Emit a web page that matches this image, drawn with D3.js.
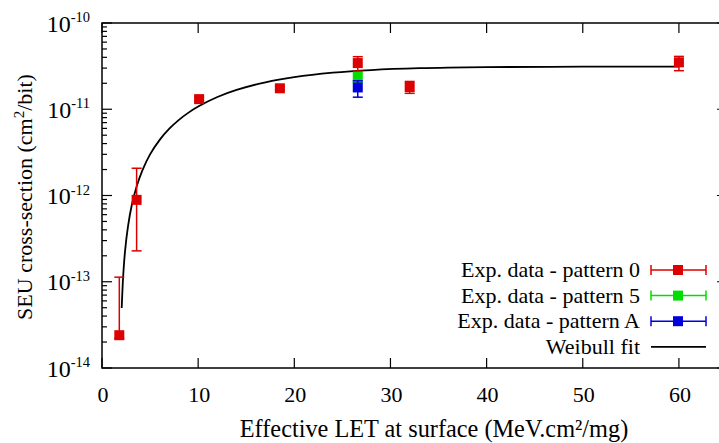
<!DOCTYPE html>
<html><head><meta charset="utf-8">
<script src="https://cdn.jsdelivr.net/npm/d3@7"></script>
</head>
<body style="margin:0">
<script>
// ---- data ----
const xTicks = [0, 10, 20, 30, 40, 50, 60];
const yTickExps = [-14, -13, -12, -11, -10];

const p0LET   = [1.8, 3.6, 10.1, 18.5, 26.6, 32.0, 60.0];
const p0Sigma = [2.4e-14, 8.9e-13, 1.31e-11, 1.75e-11, 3.43e-11, 1.81e-11, 3.5e-11];
const p0Low   = [2.2e-14, 2.28e-13, 1.25e-11, 1.68e-11, 2.77e-11, 1.53e-11, 2.8e-11];
const p0High  = [1.13e-13, 2.07e-12, 1.38e-11, 1.84e-11, 4.07e-11, 2.1e-11, 4.1e-11];

const p5LET   = [26.6];
const p5Sigma = [2.3e-11];
const p5Low   = [2.09e-11];
const p5High  = [2.66e-11];

const pALET   = [26.6];
const pASigma = [1.79e-11];
const pALow   = [1.38e-11];
const pAHigh  = [2.14e-11];

const fitLET   = [2.05, 2.2, 2.4, 2.7, 3.1, 3.6, 4.2, 5, 6, 7, 8, 9, 10, 12, 14, 17, 20, 24, 28, 33, 40, 50, 60];
const fitSigma = [4.97e-14, 1.15e-13, 2.28e-13, 4.36e-13, 7.75e-13, 1.27e-12, 1.96e-12, 3.0e-12, 4.42e-12, 5.95e-12, 7.54e-12, 9.14e-12, 1.075e-11, 1.387e-11, 1.676e-11, 2.054e-11, 2.358e-11, 2.654e-11, 2.849e-11, 2.99e-11, 3.078e-11, 3.113e-11, 3.119e-11];

const seriesNames = ["Exp. data - pattern 0", "Exp. data - pattern 5", "Exp. data - pattern A", "Weibull fit"];
const seriesColors = ["#dd0000", "#00dd00", "#0000dd", "#000000"];

// ---- layout ----
const W = 719, H = 443;
const L = 102, R = 727, T = 23, B = 368;

const svg = d3.select("body").append("svg").attr("width", W).attr("height", H)
  .style("display", "block").style("background", "#fff");

function txt(sel) {
  return sel.append("text").style("font-family", "'Liberation Serif'").attr("fill", "#000");
}

const x = d3.scaleLinear().domain([0, 65]).range([L, R]);
const y = d3.scaleLog().domain([1e-14, 1e-10]).range([B, T]);

// frame
svg.append("rect").attr("x", L).attr("y", T).attr("width", R - L).attr("height", B - T)
  .attr("fill", "none").attr("stroke", "#000").attr("stroke-width", 1.5);

// x ticks (bottom, inward) and top mirror
const gx = svg.append("g");
xTicks.forEach(v => {
  gx.append("line").attr("x1", x(v)).attr("x2", x(v)).attr("y1", B).attr("y2", B - 10)
    .attr("stroke", "#000").attr("stroke-width", 1.2);
  gx.append("line").attr("x1", x(v)).attr("x2", x(v)).attr("y1", T).attr("y2", T + 10)
    .attr("stroke", "#000").attr("stroke-width", 1.2);
  txt(gx).attr("x", x(v) + 1).attr("y", 402).attr("text-anchor", "middle")
    .attr("font-size", 22).text(String(v));
});

// y ticks: majors and log minors, left and right mirror
const gy = svg.append("g");
yTickExps.forEach((e, i) => {
  const v = Math.pow(10, e);
  [[L, 1], [R, -1]].forEach(([ax, dir]) => {
    gy.append("line").attr("x1", ax).attr("x2", ax + dir * 10).attr("y1", y(v)).attr("y2", y(v))
      .attr("stroke", "#000").attr("stroke-width", 1.2);
    if (i < yTickExps.length - 1) {
      for (let k = 2; k <= 9; k++) {
        const mv = k * v;
        gy.append("line").attr("x1", ax).attr("x2", ax + dir * 5).attr("y1", y(mv)).attr("y2", y(mv))
          .attr("stroke", "#000").attr("stroke-width", 1.2);
      }
    }
  });
  const t = txt(gy).attr("x", 90).attr("y", y(v) + 8.5).attr("text-anchor", "end")
    .attr("font-size", 24);
  t.append("tspan").text("10");
  t.append("tspan").attr("font-size", 14.5).attr("dy", -9.5).text(String(e));
});

// axis titles
txt(svg).attr("x", 434).attr("y", 437).attr("text-anchor", "middle")
  .attr("font-size", 24.3).text("Effective LET at surface (MeV.cm²/mg)");
const yt = txt(svg).attr("transform", "translate(32,197) rotate(-90)")
  .attr("text-anchor", "middle").attr("font-size", 22);
yt.append("tspan").text("SEU cross-section (cm");
yt.append("tspan").attr("font-size", 15).attr("dy", -8).text("2");
yt.append("tspan").attr("dy", 8).text("/bit)");

// fit line
const line = d3.line().x(d => x(d[0])).y(d => y(d[1])).curve(d3.curveCatmullRom.alpha(0.5));
svg.append("path").datum(d3.zip(fitLET, fitSigma)).attr("d", line)
  .attr("fill", "none").attr("stroke", "#000").attr("stroke-width", 1.8);

// data series with error bars
function drawSeries(lets, sig, lo, hi, color) {
  const g = svg.append("g");
  lets.forEach((lv, i) => {
    const cx = x(lv);
    g.append("line").attr("x1", cx).attr("x2", cx).attr("y1", y(lo[i])).attr("y2", y(hi[i]))
      .attr("stroke", color).attr("stroke-width", 1.5);
    [lo[i], hi[i]].forEach(b => {
      g.append("line").attr("x1", cx - 5).attr("x2", cx + 5).attr("y1", y(b)).attr("y2", y(b))
        .attr("stroke", color).attr("stroke-width", 1.5);
    });
    g.append("rect").attr("x", cx - 5).attr("y", y(sig[i]) - 5).attr("width", 10).attr("height", 10)
      .attr("fill", color);
  });
}
drawSeries(p0LET, p0Sigma, p0Low, p0High, seriesColors[0]);
drawSeries(p5LET, p5Sigma, p5Low, p5High, seriesColors[1]);
drawSeries(pALET, pASigma, pALow, pAHigh, seriesColors[2]);

// legend
const lg = svg.append("g");
seriesNames.forEach((name, i) => {
  const ry = 270 + i * 25.6;
  txt(lg).attr("x", 640).attr("y", ry + 7).attr("text-anchor", "end")
    .attr("font-size", 22).text(name);
  const c = seriesColors[i];
  lg.append("line").attr("x1", 651).attr("x2", 706).attr("y1", ry).attr("y2", ry)
    .attr("stroke", c).attr("stroke-width", i < 3 ? 1.5 : 1.8);
  if (i < 3) {
    [651, 706].forEach(ex => lg.append("line").attr("x1", ex).attr("x2", ex)
      .attr("y1", ry - 5).attr("y2", ry + 5).attr("stroke", c).attr("stroke-width", 1.5));
    lg.append("rect").attr("x", 678 - 5).attr("y", ry - 5).attr("width", 10).attr("height", 10).attr("fill", c);
  }
});
</script>
</body></html>
